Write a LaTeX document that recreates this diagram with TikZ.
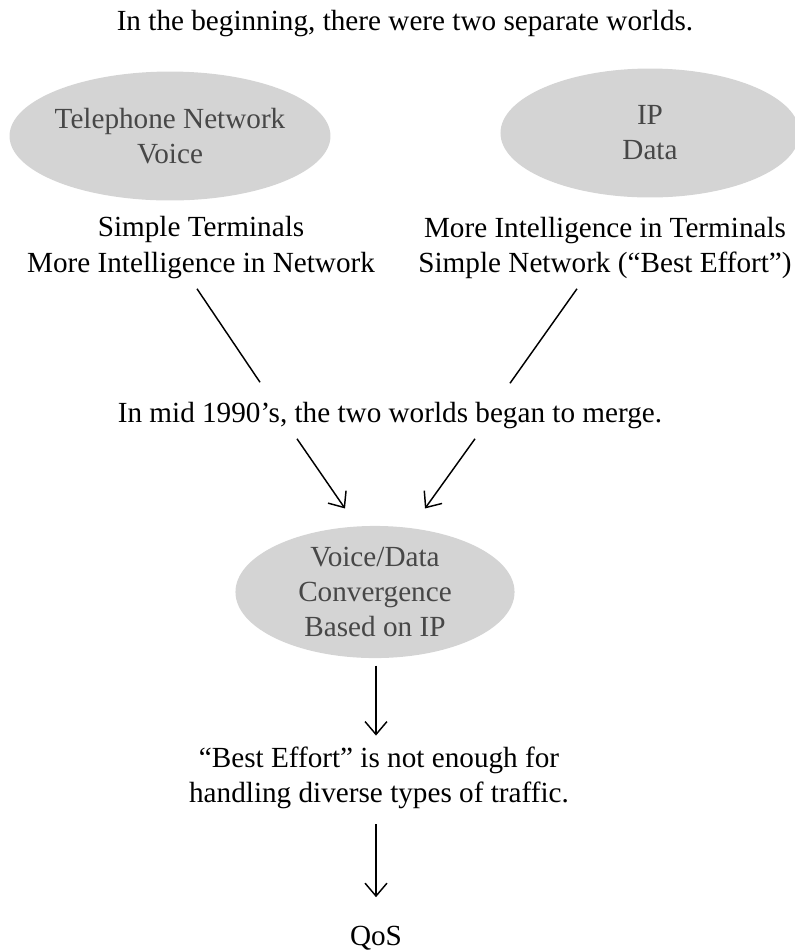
\documentclass[tikz,border=0pt]{standalone}
\usepackage{fontspec}
\setmainfont{Liberation Serif}
\usetikzlibrary{arrows.meta,shapes.geometric}

\begin{document}
\begin{tikzpicture}[
    x=0.411pt, y=-0.411pt,
    every node/.style={font=\fontsize{12}{14.4}\selectfont, inner sep=0pt},
    txt/.style={align=center},
    world/.style={ellipse, fill=black!17, text=black!72, align=center, inner xsep=-2pt, inner ysep=-1pt},
    arr/.style={-{Straight Barb[length=5.3pt, width=9pt]}, line width=0.6pt},
    link/.style={line width=0.6pt},
]
\useasboundingbox (0,0) rectangle (795,951);

% Heading
\node[txt, anchor=base] (intro) at (405,30) {In the beginning, there were two separate worlds.};

% The two worlds
\node[world, minimum width=131.9pt, minimum height=53pt] (phone) at (170,136) {Telephone Network\\Voice};
\node[world, minimum width=122.9pt, minimum height=53pt] (ipnet) at (650,133) {IP\\Data};
\node[txt] (phoneTxt) at (201,247.5) {Simple Terminals\\More Intelligence in Network};
\node[txt] (ipTxt) at (605,247.5) {More Intelligence in Terminals\\Simple Network (“Best Effort”)};

% Merging
\node[txt, anchor=base] (merge) at (390,422) {In mid 1990’s, the two worlds began to merge.};
\node[world, minimum width=114.7pt, minimum height=54.3pt] (conv) at (375,592) {Voice/Data\\Convergence\\Based on IP};

% Result
\node[txt] (enough) at (379,778) {“Best Effort” is not enough for\\handling diverse types of traffic.};
\node[txt, anchor=base] (qos) at (376,945) {QoS};

% Lines and arrows
\draw[link] ([shift={(-4,10)}]phoneTxt.south) -- ([shift={(-130,-19)}]merge.north);
\draw[link] ([shift={(-28,10)}]ipTxt.south) -- ([shift={(120,-18)}]merge.north);
\draw[arr] ([shift={(-93,10)}]merge.south) -- ([shift={(-30,-17)}]conv.north);
\draw[arr] ([shift={(85,10)}]merge.south) -- ([shift={(50,-17)}]conv.north);
\draw[arr] ([shift={(1,7)}]conv.south) -- ([shift={(-3,-11)}]enough.north);
\draw[arr] ([shift={(-3,15)}]enough.south) -- ([shift={(0,-28)}]qos.north);
\end{tikzpicture}
\end{document}
